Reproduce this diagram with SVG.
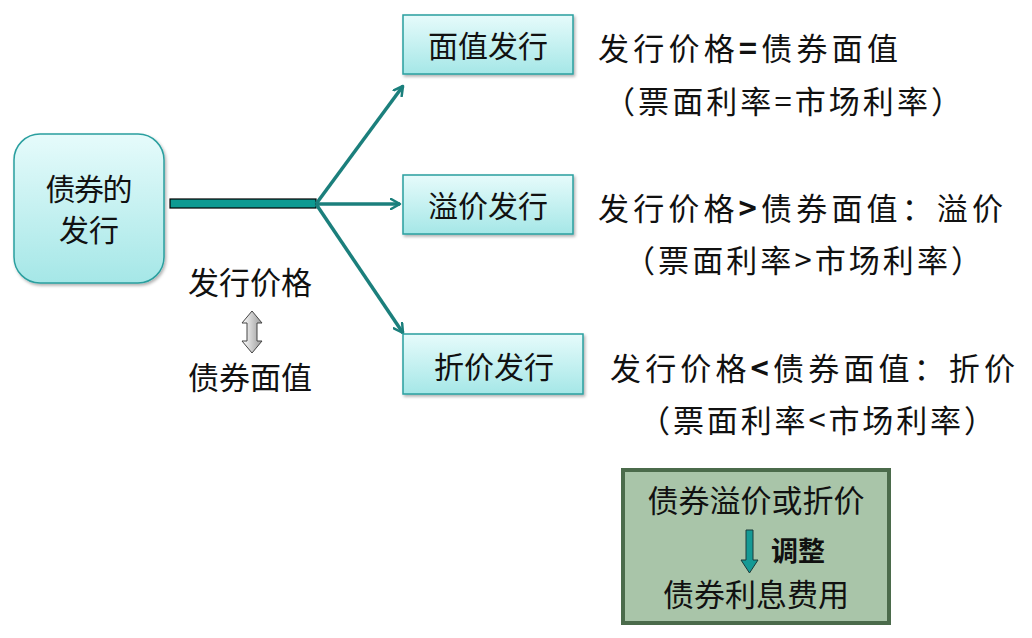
<svg xmlns="http://www.w3.org/2000/svg" width="1032" height="638" viewBox="0 0 1032 638">
<defs>
<linearGradient id="cyan" x1="0" y1="0" x2="0" y2="1">
<stop offset="0" stop-color="#e6fbfb"/>
<stop offset="1" stop-color="#a5e7e7"/>
</linearGradient>
<linearGradient id="gray" x1="0" y1="0" x2="1" y2="0">
<stop offset="0" stop-color="#ffffff"/>
<stop offset="1" stop-color="#9a9a9a"/>
</linearGradient>
<filter id="sh" x="-10%" y="-10%" width="130%" height="140%">
<feDropShadow dx="1.5" dy="2" stdDeviation="1.5" flood-color="#000" flood-opacity="0.3"/>
</filter>
<marker id="ah" viewBox="0 0 12 12" refX="10" refY="6" markerWidth="12" markerHeight="12" markerUnits="userSpaceOnUse" orient="auto">
<path d="M1,1 L10,6 L1,11" fill="none" stroke="#1b7f7c" stroke-width="2.5" stroke-linecap="round" stroke-linejoin="round"/>
</marker>
</defs>
<style>
text{font-family:"Noto Sans CJK SC","Liberation Sans",sans-serif;fill:#111;}
.box{fill:url(#cyan);stroke:#2a9f9f;stroke-width:1.5;filter:url(#sh);}
.bl{font-size:30px;text-anchor:middle;}
.rt{font-size:31px;}
.conn{stroke:#1b7f7c;stroke-width:3.5;fill:none;marker-end:url(#ah);}
</style>

<g id="connectors">
<rect x="170" y="199" width="146" height="9" fill="#0d9a92" stroke="#000" stroke-width="1.2"/>
<line class="conn" x1="316" y1="204" x2="403" y2="86"/>
<line class="conn" x1="316" y1="204" x2="400" y2="204"/>
<line class="conn" x1="316" y1="204" x2="403" y2="333"/>
</g>

<g id="node-bond-issue">
<rect class="box" x="14" y="134" width="150" height="149" rx="26"/>
<text class="bl" font-size="28"><tspan x="89" y="200" textLength="87" lengthAdjust="spacing">债券的</tspan><tspan x="89" y="241">发行</tspan></text>
</g>

<g id="node-par">
<rect class="box" x="403" y="15" width="170" height="59"/>
<text class="bl" x="488" y="57">面值发行</text>
</g>

<g id="node-premium">
<rect class="box" x="403" y="175" width="170" height="59"/>
<text class="bl" x="488" y="217">溢价发行</text>
</g>

<g id="node-discount">
<rect class="box" x="403" y="334" width="180" height="60"/>
<text class="bl" x="494" y="378">折价发行</text>
</g>

<g id="price-face">
<text x="250" y="294" font-size="31" text-anchor="middle">发行价格</text>
<path d="M252,311 L262,323 L257,323 L257,341 L262,341 L252,353 L242,341 L247,341 L247,323 L242,323 Z" fill="url(#gray)" stroke="#444" stroke-width="1"/>
<text x="250" y="389" font-size="31" text-anchor="middle">债券面值</text>
</g>

<g id="text-par">
<text class="rt" x="598" y="60" textLength="300" lengthAdjust="spacing">发行价格<tspan font-weight="bold">=</tspan>债券面值</text>
<text class="rt" x="604" y="113" textLength="358" lengthAdjust="spacing">（票面利率=市场利率）</text>
</g>

<g id="text-premium">
<text class="rt" x="598" y="220" textLength="405" lengthAdjust="spacing">发行价格<tspan font-weight="bold">&gt;</tspan>债券面值：溢价</text>
<text class="rt" x="624" y="272" textLength="358" lengthAdjust="spacing">（票面利率&gt;市场利率）</text>
</g>

<g id="text-discount">
<text class="rt" x="610" y="380" textLength="405" lengthAdjust="spacing">发行价格<tspan font-weight="bold">&lt;</tspan>债券面值：折价</text>
<text class="rt" x="639" y="432" textLength="356" lengthAdjust="spacing">（票面利率&lt;市场利率）</text>
</g>

<g id="node-adjust">
<rect x="623" y="470" width="266" height="153" fill="#a9c5a9" stroke="#4b6b4b" stroke-width="4"/>
<text x="756" y="512" font-size="31" text-anchor="middle">债券溢价或折价</text>
<path d="M746,530 L753,530 L753,560 L758,560 L749.5,573 L741,560 L746,560 Z" fill="#159a95" stroke="#1a3a3a" stroke-width="1"/>
<text x="771" y="561" font-size="27" font-weight="bold">调整</text>
<text x="756" y="606" font-size="31" text-anchor="middle">债券利息费用</text>
</g>
</svg>
